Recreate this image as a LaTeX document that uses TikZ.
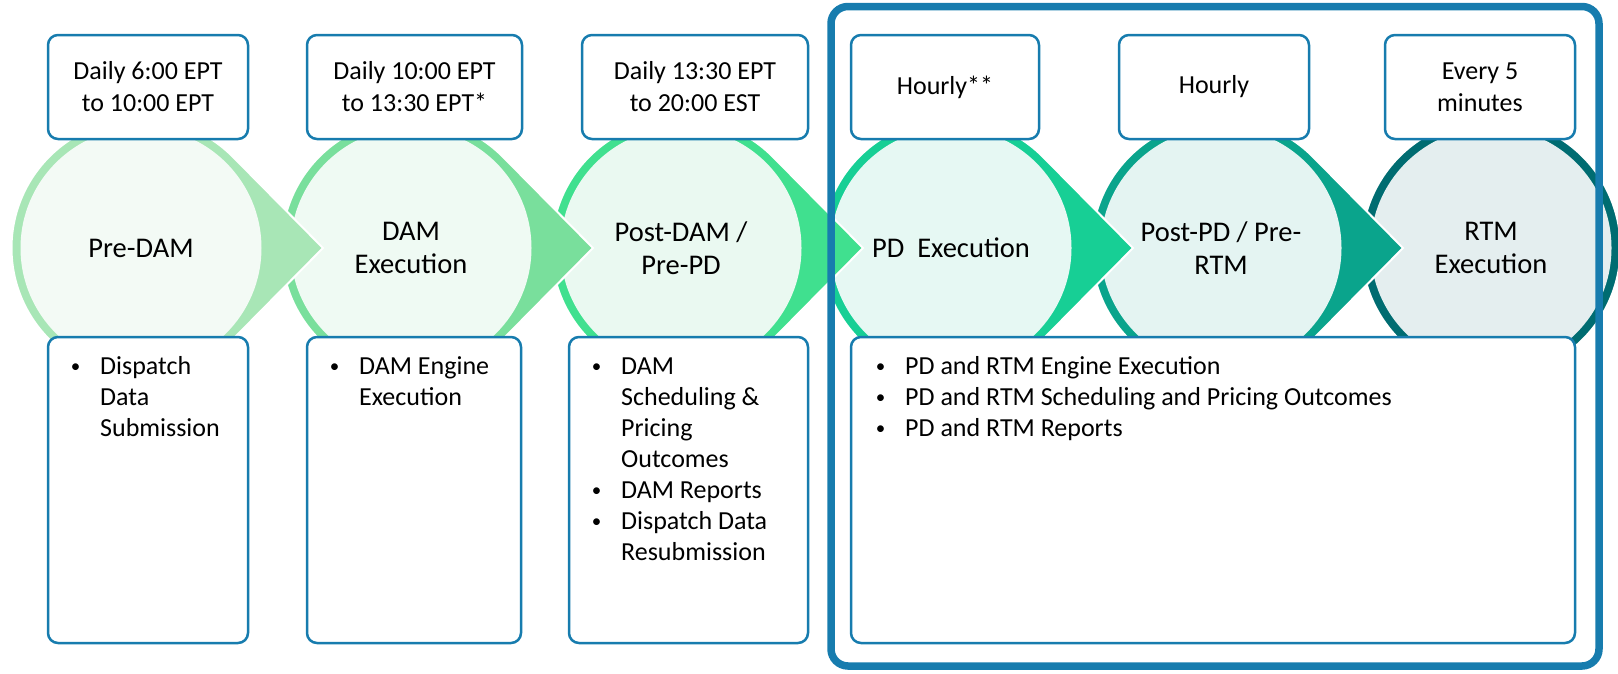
\documentclass[tikz,border=0pt]{standalone}
\usepackage{fontspec}
\setmainfont{Carlito}
\definecolor{frameblue}{HTML}{177CAE}
\definecolor{ringA}{HTML}{A8E6B6}\definecolor{fillA}{HTML}{F3FAF5}
\definecolor{ringB}{HTML}{79DF9C}\definecolor{fillB}{HTML}{EFFAF3}
\definecolor{ringC}{HTML}{40E08F}\definecolor{fillC}{HTML}{EAF9F1}
\definecolor{ringD}{HTML}{17CF95}\definecolor{fillD}{HTML}{E6F8F3}
\definecolor{ringE}{HTML}{0AA48C}\definecolor{fillE}{HTML}{E4F4F2}
\definecolor{ringF}{HTML}{006C71}\definecolor{fillF}{HTML}{E4EEEF}
\newcommand\fnttop{\fontsize{26}{32}\selectfont}
\newcommand\fntcirc{\fontsize{28.5}{33}\selectfont}
\newcommand\fntbul{\fontsize{26}{31}\selectfont}
\newcommand\bul{\makebox[49pt][c]{\raisebox{2pt}{\fontsize{19}{19}\selectfont\textbullet}}}
\begin{document}
\begin{tikzpicture}[x=1pt,y=-1pt,
  tbox/.style={draw=frameblue, line width=2.5pt, rounded corners=10pt, fill=white,
    align=center, font=\fnttop, minimum height=104pt},
  bbox/.style={draw=frameblue, line width=2.5pt, rounded corners=10pt, fill=white,
    minimum height=306pt},
  clabel/.style={align=center, font=\fntcirc, text=black},
  blist/.style={anchor=north west, inner sep=0pt, font=\fntbul, text=black},
  ringshape/.style={draw=white, line width=2pt}]
\useasboundingbox (0,0) rectangle (1618,673);
% stage shapes, drawn right to left so each arrow lies over the next circle
\fill[ringF, ringshape] (1491,248) circle[radius=129.5];
\fill[fillF] (1491,248) circle[radius=120.5];
\foreach \cx/\rc/\fc in {1221/ringE/fillE, 951/ringD/fillD, 681/ringC/fillC, 411/ringB/fillB, 141/ringA/fillA}{
  \fill[\rc, ringshape, shift={(\cx,248)}] (182,0) -- (44.64:129.5)
     arc[start angle=44.64, end angle=315.36, radius=129.5] -- cycle;
  \fill[\fc] (\cx,248) circle[radius=120.5];
}
% circle labels
\node[clabel] (c1) at (141,248) {Pre-DAM};
\node[clabel] (c2) at (411,248) {DAM\\Execution};
\node[clabel] (c3) at (681,248) {Post-DAM /\\Pre-PD};
\node[clabel] (c4) at (951,248) {PD~~Execution};
\node[clabel] (c5) at (1221,248) {Post-PD / Pre-\\RTM};
\node[clabel] (c6) at (1491,248) {RTM\\Execution};
% top boxes
\node[tbox, minimum width=200pt] (t1) at (148,87) {Daily 6:00 EPT\\to 10:00 EPT};
\node[tbox, minimum width=215pt] (t2) at (414.5,87) {Daily 10:00 EPT\\to 13:30 EPT*};
\node[tbox, minimum width=226pt] (t3) at (695,87) {Daily 13:30 EPT\\to 20:00 EST};
\node[tbox, minimum width=188pt] (t4) at (945,87) {Hourly**};
\node[tbox, minimum width=190pt] (t5) at (1214,87) {Hourly};
\node[tbox, minimum width=190pt] (t6) at (1480,87) {Every 5\\minutes};
% bottom boxes
\node[bbox, minimum width=200pt] (b1) at (148,490) {};
\node[bbox, minimum width=214pt] (b2) at (414,490) {};
\node[bbox, minimum width=239pt] (b3) at (688.5,490) {};
\node[bbox, minimum width=724pt] (b4) at (1213,490) {};
\node[blist] (l1) at (51,352.3) {\begin{tabular}{@{}l@{}l@{}}
  \bul & Dispatch\\ & Data\\ & Submission\end{tabular}};
\node[blist] (l2) at (310,352.3) {\begin{tabular}{@{}l@{}l@{}}
  \bul & DAM Engine\\ & Execution\end{tabular}};
\node[blist] (l3) at (572,352.3) {\begin{tabular}{@{}l@{}l@{}}
  \bul & DAM\\ & Scheduling \&\\ & Pricing\\ & Outcomes\\
  \bul & DAM Reports\\ \bul & Dispatch Data\\ & Resubmission\end{tabular}};
\node[blist] (l4) at (856,352.3) {\begin{tabular}{@{}l@{}l@{}}
  \bul & PD and RTM Engine Execution\\
  \bul & PD and RTM Scheduling and Pricing Outcomes\\
  \bul & PD and RTM Reports\end{tabular}};
% frame around the PD / RTM stages
\draw[frameblue, line width=7.5pt, rounded corners=17pt] (831,6.5) rectangle (1599,666);
\end{tikzpicture}
\end{document}
